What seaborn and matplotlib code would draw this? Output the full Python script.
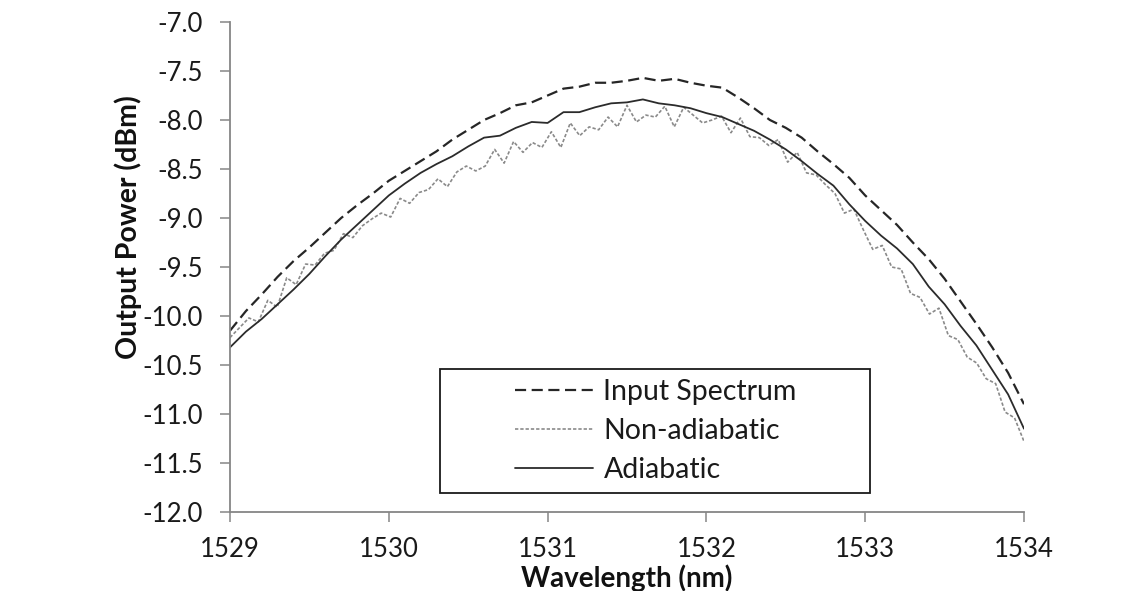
import numpy as np
import pandas as pd
import matplotlib
matplotlib.use("Agg")
import matplotlib.pyplot as plt
from matplotlib.patches import Rectangle
import seaborn as sns

# Spectra (dBm) versus wavelength (nm)
wl_smooth = np.round(np.arange(1529.0, 1534.0001, 0.1), 2)

input_spectrum = [
    -10.15, -9.95, -9.78, -9.60, -9.44, -9.30, -9.15, -9.00, -8.87, -8.75,
    -8.62, -8.52, -8.42, -8.32, -8.20, -8.10, -8.00, -7.93, -7.85, -7.82,
    -7.75, -7.68, -7.66, -7.62, -7.62, -7.60, -7.57, -7.60, -7.58, -7.62,
    -7.65, -7.67, -7.77, -7.88, -8.00, -8.08, -8.18, -8.32, -8.45, -8.59,
    -8.77, -8.92, -9.07, -9.25, -9.42, -9.62, -9.85, -10.08, -10.32, -10.58,
    -10.90,
]

adiabatic = [
    -10.32, -10.16, -10.03, -9.88, -9.73, -9.57, -9.39, -9.22, -9.07, -8.92,
    -8.77, -8.65, -8.54, -8.45, -8.37, -8.27, -8.18, -8.16, -8.08, -8.02,
    -8.03, -7.92, -7.92, -7.87, -7.83, -7.82, -7.79, -7.83, -7.85, -7.88,
    -7.93, -7.97, -8.04, -8.11, -8.20, -8.30, -8.42, -8.55, -8.67, -8.86,
    -9.03, -9.18, -9.31, -9.47, -9.70, -9.88, -10.10, -10.30, -10.55, -10.80,
    -11.15,
]

wl_ripple = np.linspace(1529.0, 1534.0, 85)

non_adiabatic = [
    -10.22, -10.12, -10.02, -10.06, -9.84, -9.91, -9.61, -9.68, -9.47, -9.48,
    -9.36, -9.33, -9.16, -9.20, -9.08, -9.01, -8.95, -8.99, -8.80, -8.85,
    -8.74, -8.71, -8.60, -8.68, -8.53, -8.47, -8.52, -8.47, -8.30, -8.44,
    -8.22, -8.33, -8.23, -8.28, -8.12, -8.28, -8.03, -8.16, -8.07, -8.10,
    -7.97, -8.07, -7.85, -8.02, -7.95, -7.97, -7.86, -8.07, -7.87, -7.95,
    -8.03, -8.00, -7.96, -8.13, -7.98, -8.17, -8.18, -8.26, -8.20, -8.43,
    -8.33, -8.54, -8.56, -8.66, -8.75, -8.95, -8.91, -9.12, -9.32, -9.28,
    -9.50, -9.52, -9.77, -9.81, -9.98, -9.92, -10.20, -10.24, -10.42, -10.48,
    -10.64, -10.69, -10.98, -11.04, -11.28,
]

series_names = ["Input Spectrum", "Non-adiabatic", "Adiabatic"]
x_ticks = [1529, 1530, 1531, 1532, 1533, 1534]
y_ticks = [-7.0, -7.5, -8.0, -8.5, -9.0, -9.5, -10.0, -10.5, -11.0, -11.5, -12.0]

sns.set_theme(style="white")
plt.rcParams["font.family"] = ["Lato", "DejaVu Sans"]
plt.rcParams["axes.unicode_minus"] = False
plt.rcParams["lines.scale_dashes"] = False

fig = plt.figure(figsize=(11.45, 5.91), dpi=100)
ax = fig.add_axes([230 / 1145, 79 / 591, 794 / 1145, 490 / 591])

df_in = pd.DataFrame({"wl": wl_smooth, "p": input_spectrum})
df_ad = pd.DataFrame({"wl": wl_smooth, "p": adiabatic})
df_na = pd.DataFrame({"wl": wl_ripple, "p": non_adiabatic})

sns.lineplot(data=df_in, x="wl", y="p", ax=ax, color="#262626", lw=1.6,
             estimator=None, sort=False, label=series_names[0])
ax.lines[-1].set_linestyle((0, (8, 4)))
sns.lineplot(data=df_na, x="wl", y="p", ax=ax, color="#8a8a8a", lw=1.2,
             estimator=None, sort=False, label=series_names[1])
ax.lines[-1].set_linestyle((0, (2.4, 1.4)))
sns.lineplot(data=df_ad, x="wl", y="p", ax=ax, color="#2b2b2b", lw=1.3,
             estimator=None, sort=False, label=series_names[2])

ax.set_xlim(1529, 1534)
ax.set_ylim(-12.0, -7.0)
ax.set_xticks(x_ticks)
ax.set_xticklabels([str(t) for t in x_ticks])
ax.set_yticks(y_ticks)
ax.set_yticklabels([f"{t:.1f}" for t in y_ticks])

for side in ("top", "right"):
    ax.spines[side].set_visible(False)
for side in ("left", "bottom"):
    ax.spines[side].set_color("#868686")
    ax.spines[side].set_linewidth(1.3)

ax.tick_params(axis="both", which="major", direction="out", length=7.5,
               width=1.1, color="#868686", labelsize=18.5, labelcolor="#1a1a1a",
               left=True, bottom=True)
ax.tick_params(axis="y", pad=12)
ax.tick_params(axis="x", pad=10.5)

ax.set_xlabel("Wavelength (nm)", fontsize=20, fontweight="bold", color="#111111", labelpad=1.5)
ax.set_ylabel("Output Power (dBm)", fontsize=20.5, fontweight="bold", color="#111111")
ax.yaxis.set_label_coords(-0.111, 0.581)

# legend box with wide side margins
ax.add_patch(Rectangle((210 / 794, 19 / 490), 430 / 794, 124 / 490,
                       transform=ax.transAxes, facecolor="white",
                       edgecolor="#1a1a1a", lw=1.3, zorder=4))
leg = ax.legend(loc="center", bbox_to_anchor=(426 / 794, 81 / 490),
                frameon=False, fontsize=20.5, handlelength=2.75,
                handletextpad=0.35, labelspacing=0.45)
leg.set_zorder(5)
for text in leg.get_texts():
    text.set_color("#1a1a1a")

fig.savefig("out.png", dpi=100)
